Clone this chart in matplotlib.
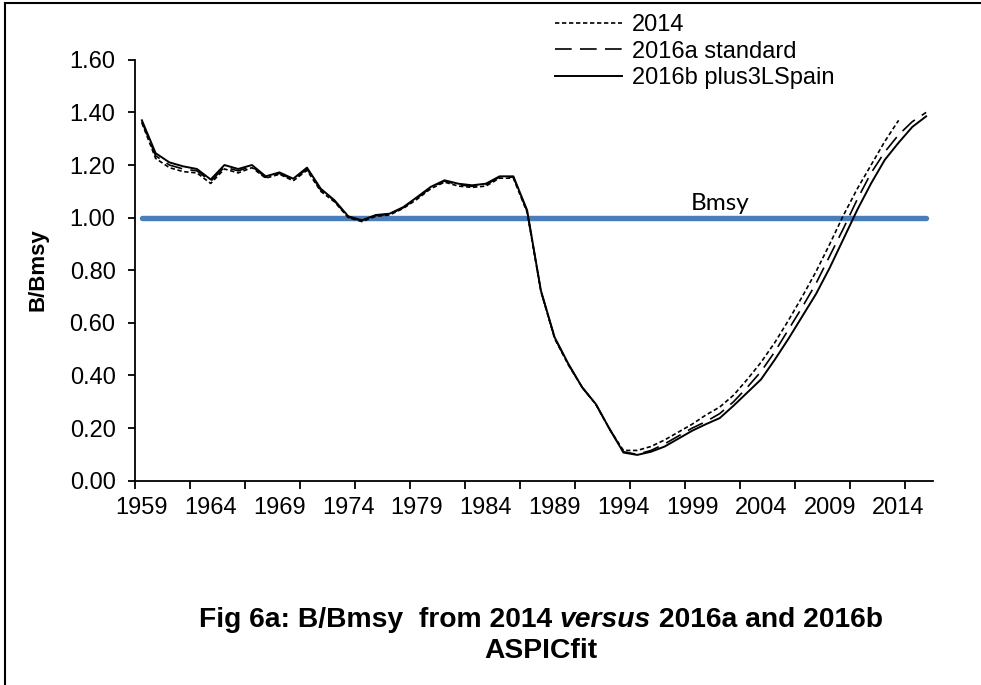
import matplotlib
matplotlib.use("Agg")
import matplotlib.pyplot as plt
from matplotlib.lines import Line2D
import numpy as np

plt.rcParams['font.family'] = ['Liberation Sans', 'DejaVu Sans']

# ------------ data ------------
years_2014 = list(range(1959, 2015))
years_2016 = list(range(1959, 2017))

b_2014 = [1.36, 1.225, 1.19, 1.175, 1.17, 1.13, 1.185, 1.17, 1.19, 1.15,
          1.165, 1.14, 1.18, 1.10, 1.06, 1.00, 0.985, 1.005, 1.01, 1.035,
          1.07, 1.11, 1.135, 1.12, 1.115, 1.12, 1.15, 1.15, 1.02, 0.72,
          0.54, 0.44, 0.355, 0.29, 0.195, 0.115, 0.115, 0.13, 0.155, 0.185,
          0.215, 0.25, 0.28, 0.325, 0.385, 0.45, 0.525, 0.61, 0.70, 0.795,
          0.90, 1.01, 1.11, 1.20, 1.29, 1.37]

b_2016a = [1.365, 1.235, 1.20, 1.185, 1.178, 1.138, 1.192, 1.178, 1.195, 1.153,
           1.168, 1.144, 1.185, 1.105, 1.063, 1.002, 0.988, 1.008, 1.012, 1.038,
           1.074, 1.114, 1.139, 1.125, 1.119, 1.125, 1.154, 1.154, 1.025, 0.722,
           0.543, 0.442, 0.355, 0.29, 0.196, 0.11, 0.10, 0.115, 0.14, 0.17,
           0.20, 0.225, 0.255, 0.30, 0.355, 0.415, 0.49, 0.575, 0.66, 0.75,
           0.855, 0.96, 1.07, 1.17, 1.25, 1.315, 1.365, 1.40]

b_2016b = [1.37, 1.245, 1.21, 1.195, 1.185, 1.145, 1.20, 1.185, 1.20, 1.157,
           1.172, 1.148, 1.19, 1.11, 1.066, 1.005, 0.99, 1.01, 1.015, 1.04,
           1.078, 1.117, 1.142, 1.129, 1.123, 1.129, 1.157, 1.157, 1.028, 0.723,
           0.545, 0.444, 0.355, 0.291, 0.196, 0.107, 0.098, 0.11, 0.13, 0.16,
           0.19, 0.215, 0.238, 0.285, 0.335, 0.385, 0.46, 0.54, 0.625, 0.71,
           0.81, 0.92, 1.03, 1.13, 1.22, 1.285, 1.345, 1.385]

bmsy = 1.0
label_years = list(range(1959, 2015, 5))
y_ticks = [0.0, 0.2, 0.4, 0.6, 0.8, 1.0, 1.2, 1.4, 1.6]

W, H = 981, 685
fig = plt.figure(figsize=(W / 100, H / 100), dpi=100)
ax = fig.add_axes([135 / W, 1 - 480.7 / H, (933 - 135) / W, (480.7 - 59.8) / H])

# reference line
ax.plot([years_2016[0], years_2016[-1]], [bmsy, bmsy], color='#4a7ebb', lw=3.9,
        solid_capstyle='round', zorder=2)

l1, = ax.plot(years_2014, b_2014, color='black', lw=1.2, dashes=(2.6, 1.6), zorder=3)
l2, = ax.plot(years_2016, b_2016a, color='black', lw=1.2, dashes=(10, 5), zorder=3)
l3, = ax.plot(years_2016, b_2016b, color='black', lw=1.4, zorder=3)

ax.text(2001, 1.055, 'Bmsy', family='Lato', fontsize=17.5, ha='center', va='center')

ax.set_xlim(years_2016[0] - 0.5, years_2016[-1] + 0.5)
ax.set_ylim(0, 1.6)

ax.set_xticks(label_years)
ax.set_xticklabels([str(y) for y in label_years])
ax.set_xticks(np.arange(years_2016[0] - 0.5, years_2016[-1] + 0.5, 4), minor=True)
ax.tick_params(axis='x', which='major', length=0, pad=12, labelsize=17)
ax.tick_params(axis='x', which='minor', length=5.5, width=1.3, direction='out')

ax.set_yticks(y_ticks)
ax.set_yticklabels(['%.2f' % v for v in y_ticks])
ax.tick_params(axis='y', length=5, width=1.3, pad=9, labelsize=17, direction='out')

for s in ['top', 'right']:
    ax.spines[s].set_visible(False)
for s in ['left', 'bottom']:
    ax.spines[s].set_linewidth(1.3)

fig.text(38 / W, 1 - 270 / H, 'B/Bmsy', rotation=90, fontsize=16, fontweight='bold',
         ha='center', va='center')

ax.legend([l1, l2, l3], ['2014', '2016a standard', '2016b plus3LSpain'],
          loc='upper left', bbox_to_anchor=(555 / W, 1 - 14 / H),
          bbox_transform=fig.transFigure, frameon=False, fontsize=17,
          handlelength=2.85, handletextpad=0.42, labelspacing=0.2,
          borderpad=0, borderaxespad=0)

# title below the chart, with "versus" in italic
fig.canvas.draw()
r = fig.canvas.get_renderer()
parts = [('Fig 6a: B/Bmsy  from 2014 ', 'normal'), ('versus', 'italic'),
         (' 2016a and 2016b', 'normal')]
texts = []
for s, st in parts:
    t = fig.text(0, 1 - 620 / H, s, fontsize=20.3, fontweight='bold', style=st,
                 ha='left', va='center')
    texts.append(t)
widths = [t.get_window_extent(r).width for t in texts]
x0 = 541 - sum(widths) / 2
for t, w in zip(texts, widths):
    t.set_x(x0 / W)
    x0 += w
fig.text(541 / W, 1 - 651 / H, 'ASPICfit', fontsize=20.3, fontweight='bold',
         ha='center', va='center')

# page frame
fig.add_artist(Line2D([5 / W, 5 / W], [0, 1 - 3 / H], color='black', lw=1.5))
fig.add_artist(Line2D([5 / W, 1], [1 - 3 / H, 1 - 3 / H], color='black', lw=1.5))

fig.savefig('out.png', dpi=100)
